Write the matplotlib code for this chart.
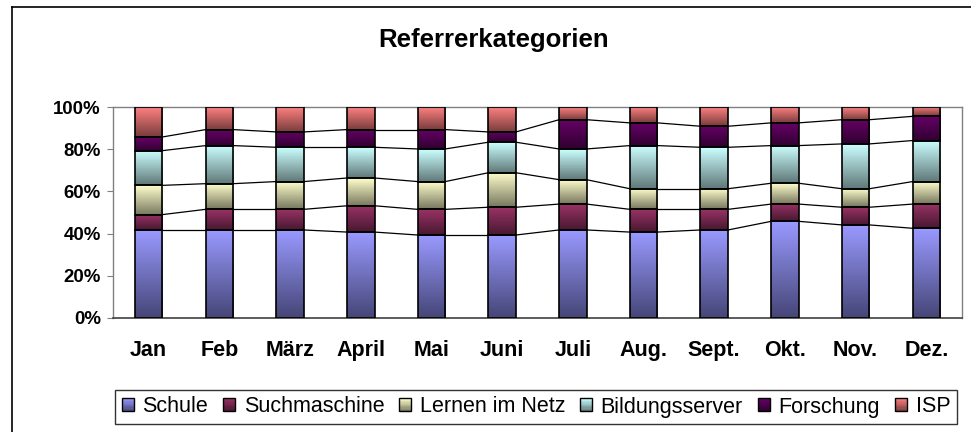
import numpy as np
import matplotlib
matplotlib.use('Agg')
import matplotlib.pyplot as plt
from matplotlib.colors import LinearSegmentedColormap
from matplotlib.patches import Rectangle
from matplotlib.legend_handler import HandlerBase

plt.rcParams['font.family'] = ['Liberation Sans', 'DejaVu Sans']

# Data (percent shares per month)
months = ['Jan', 'Feb', 'März', 'April', 'Mai', 'Juni',
          'Juli', 'Aug.', 'Sept.', 'Okt.', 'Nov.', 'Dez.']
series = ['Schule', 'Suchmaschine', 'Lernen im Netz', 'Bildungsserver', 'Forschung', 'ISP']
schule = [41.7, 41.7, 41.7, 40.7, 39.3, 39.3, 41.7, 40.7, 41.7, 45.8, 44.1, 42.5]
suchmaschine = [7.3, 9.8, 9.8, 12.5, 12.2, 13.2, 12.3, 10.8, 9.8, 8.2, 8.4, 11.5]
lernen = [13.9, 12.2, 13.2, 13.2, 13.2, 16.4, 11.6, 9.8, 9.8, 9.9, 8.8, 10.7]
bildungsserver = [16.5, 18.1, 16.3, 14.6, 15.5, 14.5, 14.6, 20.5, 19.7, 17.9, 21.3, 19.5]
forschung = [6.5, 7.6, 7.3, 8.4, 9.2, 4.9, 13.9, 10.8, 10.0, 10.8, 11.5, 11.5]
isp = [14.1, 10.6, 11.7, 10.6, 10.6, 11.7, 5.9, 7.4, 9.0, 7.4, 5.9, 4.3]

# gradient colours: (top, bottom)
colors = [('#9999FF', '#464678'), ('#993366', '#481830'), ('#FFFFCC', '#787860'),
          ('#CCFFFF', '#607878'), ('#660066', '#300030'), ('#FF8080', '#783C3C')]

values = np.array([schule, suchmaschine, lernen, bildungsserver, forschung, isp])
values = values / values.sum(axis=0) * 100
cum = np.cumsum(values, axis=0)
bottoms = cum - values

fig = plt.figure(figsize=(9.71, 4.32), dpi=100)
ax = fig.add_axes([113.3 / 971, 1 - 317.7 / 432, 848.4 / 971, 210.4 / 432])

x = np.arange(len(months))
w = 0.39
grad = np.linspace(0, 1, 64).reshape(-1, 1)

for k, name in enumerate(series):
    top_c, bot_c = colors[k]
    cmap = LinearSegmentedColormap.from_list(name, [bot_c, top_c])
    for i in x:
        ax.imshow(grad, cmap=cmap, origin='lower', aspect='auto', interpolation='bilinear',
                  extent=[i - w / 2, i + w / 2, bottoms[k, i], cum[k, i]], zorder=2)
    ax.bar(x, values[k], w, bottom=bottoms[k], facecolor='none',
           edgecolor='black', linewidth=1.2, zorder=3)

# series lines between bars
for k in range(len(series) - 1):
    for i in x[:-1]:
        ax.plot([i + w / 2, i + 1 - w / 2], [cum[k, i], cum[k, i + 1]],
                color='black', lw=0.9, zorder=1)

ax.set_xlim(-0.5, len(months) - 0.5)
ax.set_ylim(0, 100)
ax.set_yticks(np.arange(0, 101, 20))
ax.set_yticklabels([f'{v}%' for v in range(0, 101, 20)], fontsize=13.4, fontweight='bold')
ax.set_xticks(x)
ax.set_xticklabels(months, fontsize=15.5, fontweight='bold')
ax.tick_params(axis='x', length=0, pad=16)
ax.tick_params(axis='y', direction='out', length=4, color='#808080', pad=5)
for s in ['left', 'top', 'right']:
    ax.spines[s].set_color('#808080')
    ax.spines[s].set_linewidth(1.0)
ax.spines['bottom'].set_color('#404040')
ax.spines['bottom'].set_linewidth(1.2)

fig.text(494 / 971, 1 - 40 / 432, 'Referrerkategorien', ha='center', va='center',
         fontsize=18.5, fontweight='bold')

# outer chart frame (only top and left edges are in view)
fig.add_artist(plt.Line2D([12 / 971, 12 / 971], [-0.01, 1 - 7 / 432],
                          transform=fig.transFigure, color='black', lw=1.2))
fig.add_artist(plt.Line2D([12 / 971, 1.01], [1 - 7 / 432, 1 - 7 / 432],
                          transform=fig.transFigure, color='black', lw=1.2))


class GradKey:
    def __init__(self, top, bottom):
        self.top = top
        self.bottom = bottom


class GradHandler(HandlerBase):
    def create_artists(self, legend, orig_handle, xdescent, ydescent, width, height,
                       fontsize, trans):
        cmap = LinearSegmentedColormap.from_list('k', [orig_handle.bottom, orig_handle.top])
        n = 10
        arts = []
        for j in range(n):
            arts.append(Rectangle((-xdescent, -ydescent + j * height / n), width, height / n,
                                  facecolor=cmap((j + 0.5) / n), edgecolor='none',
                                  transform=trans))
        arts.append(Rectangle((-xdescent, -ydescent), width, height, facecolor='none',
                              edgecolor='black', lw=1.0, transform=trans))
        return arts


handles = [GradKey(t, b) for t, b in colors]
leg = fig.legend(handles, series, handler_map={GradKey: GradHandler()},
                 loc='center', bbox_to_anchor=(536 / 971, 1 - 407 / 432), ncol=6,
                 fontsize=15.5, handlelength=0.55, handleheight=0.55, handletextpad=0.4,
                 columnspacing=0.7, borderpad=0.3, fancybox=False, frameon=True)
leg.get_frame().set_edgecolor('black')
leg.get_frame().set_linewidth(1.0)

fig.savefig('out.png', dpi=100)
